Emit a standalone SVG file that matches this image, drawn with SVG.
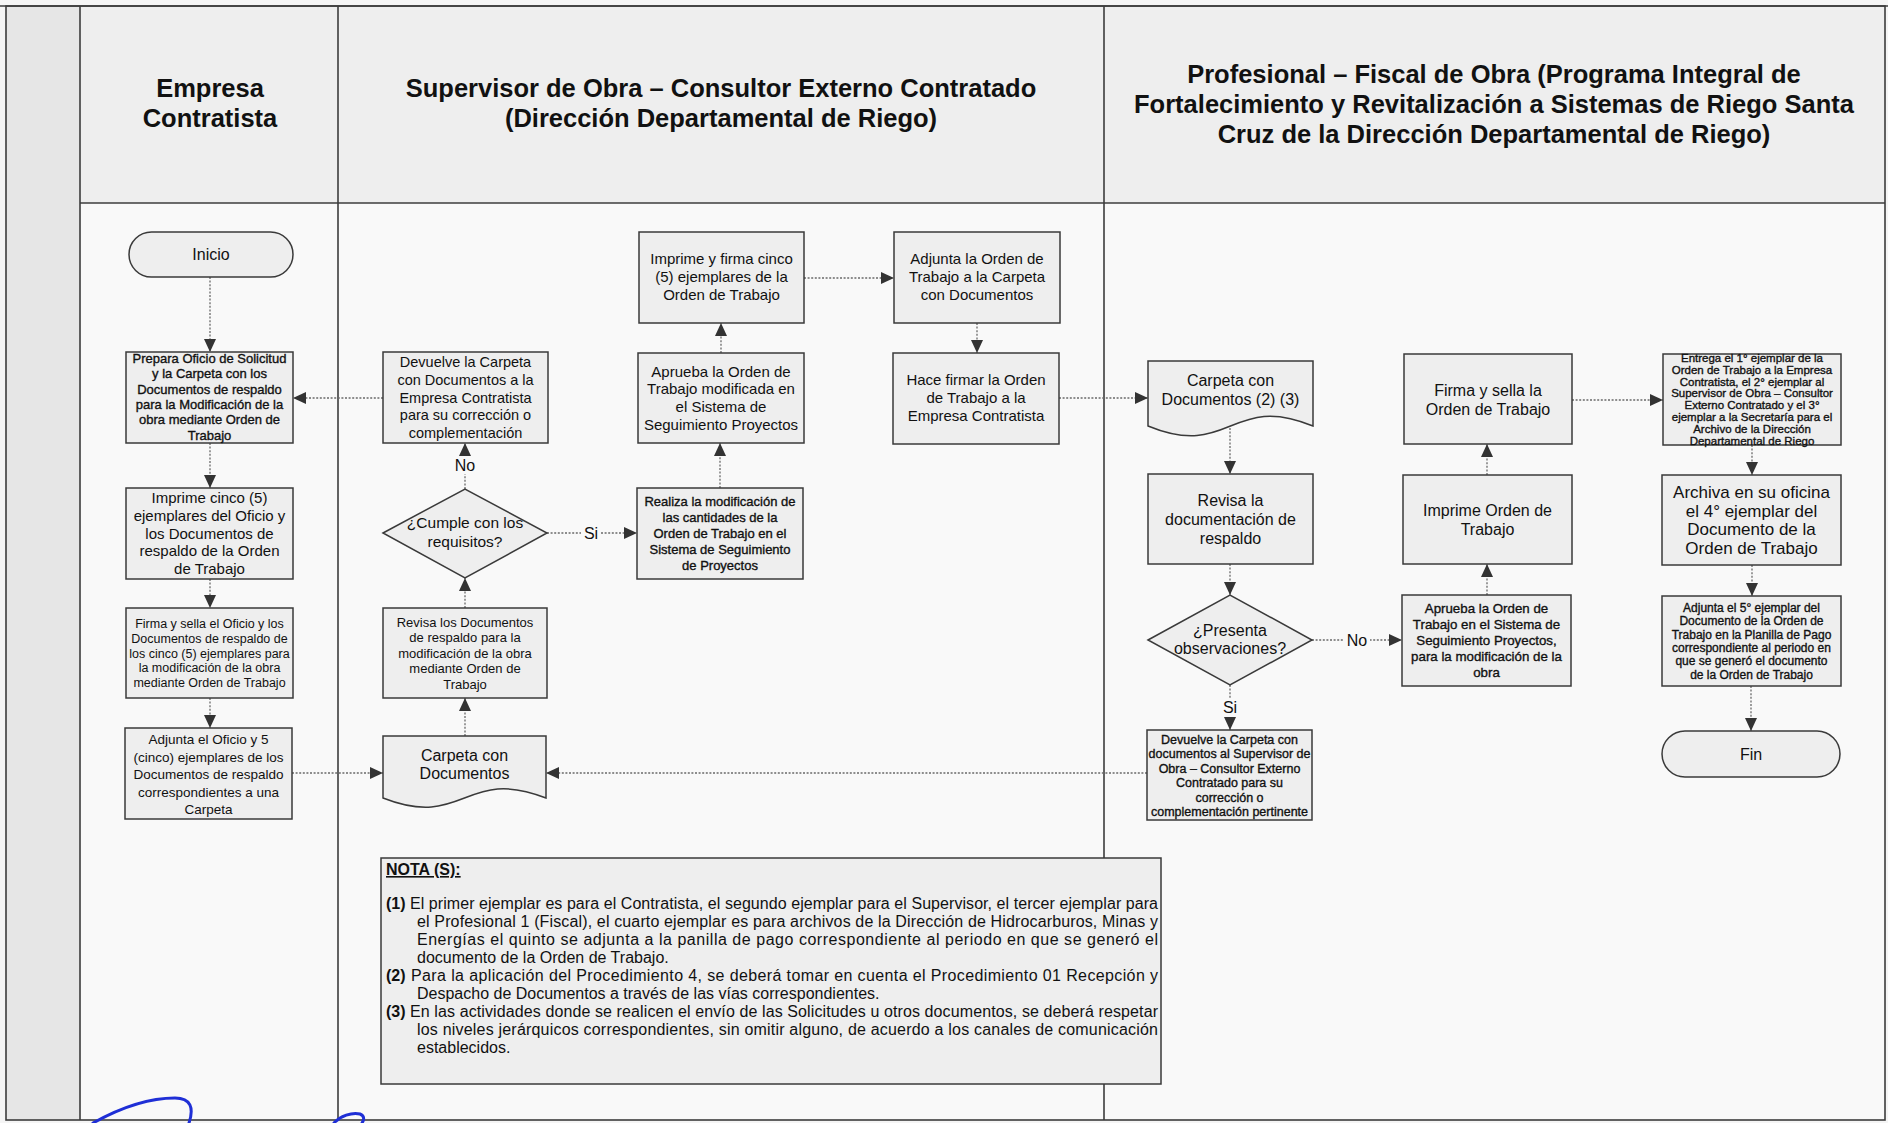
<svg xmlns="http://www.w3.org/2000/svg" width="1888" height="1123" viewBox="0 0 1888 1123">
<style>
.bg{fill:#f5f5f5}
.lane{stroke:#3c3c3c;stroke-width:1.6;fill:none}
.box{fill:#eeeeee;stroke:#3a3a3a;stroke-width:1.5}
.t{font-family:"Liberation Sans",Arial,sans-serif;fill:#111;text-anchor:middle}
.dk{stroke:#111;stroke-width:0.35}
.h{font-family:"Liberation Sans",Arial,sans-serif;font-weight:bold;font-size:25.5px;fill:#111;text-anchor:middle}
.c{fill:none;stroke:#6a6a6a;stroke-width:1.3;stroke-dasharray:2 1.6;marker-end:url(#ah)}
.lbl{font-family:"Liberation Sans",Arial,sans-serif;font-size:16px;fill:#111;text-anchor:middle}
.lb{fill:#f9f9f9}
.n{font-family:"Liberation Sans",Arial,sans-serif;font-size:16px;fill:#111}
.nb{font-weight:bold}
</style>
<defs>
<marker id="ah" viewBox="0 0 13 12" refX="13" refY="6" markerWidth="13" markerHeight="12" markerUnits="userSpaceOnUse" orient="auto">
<path d="M0,0 L13,6 L0,12 Z" fill="#333"/>
</marker>
</defs>

<g id="background">
<rect class="bg" x="0" y="0" width="1888" height="1123"/>
<rect x="6" y="6" width="74" height="1114" fill="#e6e6e6"/>
<rect x="80" y="6" width="1805" height="197" fill="#eeeeee"/>
<rect x="80" y="203" width="1805" height="917" fill="#f9f9f9"/>
</g>

<g id="lanes">
<rect class="lane" x="6" y="6" width="1879" height="1114"/>
<line class="lane" x1="0" y1="6" x2="1888" y2="6"/>
<line class="lane" x1="80" y1="6" x2="80" y2="1120"/>
<line class="lane" x1="338" y1="6" x2="338" y2="1120"/>
<line class="lane" x1="1104" y1="6" x2="1104" y2="1120"/>
<line class="lane" x1="80" y1="203" x2="1885" y2="203" stroke-width="2.2"/>
<text class="h" x="210" y="97">Empresa</text>
<text class="h" x="210" y="127">Contratista</text>
<text class="h" x="721" y="97">Supervisor de Obra – Consultor Externo Contratado</text>
<text class="h" x="721" y="127">(Dirección Departamental de Riego)</text>
<text class="h" x="1494" y="83">Profesional – Fiscal de Obra (Programa Integral de</text>
<text class="h" x="1494" y="113">Fortalecimiento y Revitalización a Sistemas de Riego  Santa</text>
<text class="h" x="1494" y="143">Cruz de la Dirección Departamental de Riego)</text>
</g>

<g id="connectors">
<path class="c" d="M210,277 V352"/>
<path class="c" d="M210,443 V488"/>
<path class="c" d="M210,579 V608"/>
<path class="c" d="M210,698 V728"/>
<path class="c" d="M292,773 H383"/>
<path class="c" d="M465,736 V698"/>
<path class="c" d="M465,608 V578"/>
<path class="c" d="M465,489 V443"/>
<path class="c" d="M383,398 H293"/>
<path class="c" d="M547,533 H637"/>
<path class="c" d="M720,488 V443"/>
<path class="c" d="M721,353 V323"/>
<path class="c" d="M804,278 H894"/>
<path class="c" d="M977,323 V353"/>
<path class="c" d="M1059,398 H1148"/>
<path class="c" d="M1230,428 V474"/>
<path class="c" d="M1230,564 V595"/>
<path class="c" d="M1312,640 H1402"/>
<path class="c" d="M1487,595 V564"/>
<path class="c" d="M1487,475 V444"/>
<path class="c" d="M1572,400 H1663"/>
<path class="c" d="M1752,445 V475"/>
<path class="c" d="M1752,565 V596"/>
<path class="c" d="M1751,686 V731"/>
<path class="c" d="M1230,685 V730"/>
<path class="c" d="M1147,773 H546"/>
<rect class="lb" x="452" y="456" width="26" height="18"/>
<text class="lbl" x="465" y="471">No</text>
<rect class="lb" x="581" y="524" width="20" height="18"/>
<text class="lbl" x="591" y="539">Si</text>
<rect class="lb" x="1344" y="631" width="26" height="18"/>
<text class="lbl" x="1357" y="646">No</text>
<rect class="lb" x="1220" y="698" width="20" height="18"/>
<text class="lbl" x="1230" y="713">Si</text>
</g>

<g id="n-inicio">
<rect class="box" x="129" y="232" width="164" height="45" rx="22.5"/>
<text class="t" x="211" y="260" font-size="16">Inicio</text>
</g>
<g id="n-prepara">
<rect class="box" x="126" y="352" width="167" height="91"/>
<text class="t dk" font-size="13" x="209.5" y="363"><tspan x="209.5">Prepara Oficio de Solicitud</tspan><tspan x="209.5" dy="15.3">y la Carpeta con los</tspan><tspan x="209.5" dy="15.3">Documentos de respaldo</tspan><tspan x="209.5" dy="15.3">para la Modificación de la</tspan><tspan x="209.5" dy="15.3">obra mediante Orden de</tspan><tspan x="209.5" dy="15.3">Trabajo</tspan></text>
</g>
<g id="n-imprime-cinco">
<rect class="box" x="126" y="488" width="167" height="91"/>
<text class="t" font-size="15" x="209.5" y="503.3"><tspan x="209.5">Imprime cinco (5)</tspan><tspan x="209.5" dy="17.7">ejemplares del Oficio y</tspan><tspan x="209.5" dy="17.7">los Documentos de</tspan><tspan x="209.5" dy="17.7">respaldo de la Orden</tspan><tspan x="209.5" dy="17.7">de Trabajo</tspan></text>
</g>
<g id="n-firma-sella-oficio">
<rect class="box" x="126" y="608" width="167" height="90"/>
<text class="t" font-size="12.5" x="209.5" y="628"><tspan x="209.5">Firma y sella el Oficio y los</tspan><tspan x="209.5" dy="14.8">Documentos de respaldo de</tspan><tspan x="209.5" dy="14.8">los cinco (5) ejemplares para</tspan><tspan x="209.5" dy="14.8">la modificación de la obra</tspan><tspan x="209.5" dy="14.8">mediante Orden de Trabajo</tspan></text>
</g>
<g id="n-adjunta-oficio">
<rect class="box" x="125" y="728" width="167" height="91"/>
<text class="t" font-size="13.5" x="208.5" y="744"><tspan x="208.5">Adjunta el Oficio y 5</tspan><tspan x="208.5" dy="17.5">(cinco) ejemplares de los</tspan><tspan x="208.5" dy="17.5">Documentos de respaldo</tspan><tspan x="208.5" dy="17.5">correspondientes a una</tspan><tspan x="208.5" dy="17.5">Carpeta</tspan></text>
</g>

<g id="n-devuelve-sup">
<rect class="box" x="383" y="352" width="165" height="91"/>
<text class="t" font-size="14.5" x="465.5" y="367"><tspan x="465.5">Devuelve la Carpeta</tspan><tspan x="465.5" dy="17.8">con Documentos a la</tspan><tspan x="465.5" dy="17.8">Empresa Contratista</tspan><tspan x="465.5" dy="17.8">para su corrección o</tspan><tspan x="465.5" dy="17.8">complementación</tspan></text>
</g>
<g id="n-cumple">
<polygon class="box" points="383,533 465,489 547,533 465,578"/>
<text class="t" font-size="15.5" x="465" y="528.4"><tspan x="465">¿Cumple con los</tspan><tspan x="465" dy="19">requisitos?</tspan></text>
</g>
<g id="n-revisa-sup">
<rect class="box" x="383" y="608" width="164" height="90"/>
<text class="t" font-size="13" x="465" y="626.5"><tspan x="465">Revisa los Documentos</tspan><tspan x="465" dy="15.5">de respaldo para la</tspan><tspan x="465" dy="15.5">modificación de la obra</tspan><tspan x="465" dy="15.5">mediante Orden de</tspan><tspan x="465" dy="15.5">Trabajo</tspan></text>
</g>
<g id="n-carpeta-sup">
<path class="box" d="M383,736 H546 V798 C464.5,766 464.5,830 383,798 Z"/>
<text class="t" font-size="16" x="464.5" y="760.5"><tspan x="464.5">Carpeta con</tspan><tspan x="464.5" dy="18">Documentos</tspan></text>
</g>
<g id="n-realiza">
<rect class="box" x="637" y="488" width="166" height="91"/>
<text class="t dk" font-size="13" x="720" y="506"><tspan x="720">Realiza la modificación de</tspan><tspan x="720" dy="16">las cantidades de la</tspan><tspan x="720" dy="16">Orden de Trabajo en el</tspan><tspan x="720" dy="16">Sistema de Seguimiento</tspan><tspan x="720" dy="16">de Proyectos</tspan></text>
</g>
<g id="n-aprueba-mod">
<rect class="box" x="638" y="353" width="166" height="90"/>
<text class="t" font-size="15" x="721" y="376.7"><tspan x="721">Aprueba la Orden de</tspan><tspan x="721" dy="17.7">Trabajo modificada en</tspan><tspan x="721" dy="17.7">el Sistema de</tspan><tspan x="721" dy="17.7">Seguimiento Proyectos</tspan></text>
</g>
<g id="n-imprime-firma">
<rect class="box" x="639" y="232" width="165" height="91"/>
<text class="t" font-size="15" x="721.5" y="264"><tspan x="721.5">Imprime y firma cinco</tspan><tspan x="721.5" dy="18">(5) ejemplares de la</tspan><tspan x="721.5" dy="18">Orden de Trabajo</tspan></text>
</g>
<g id="n-adjunta-orden">
<rect class="box" x="894" y="232" width="166" height="91"/>
<text class="t" font-size="15" x="977" y="264"><tspan x="977">Adjunta la Orden de</tspan><tspan x="977" dy="18">Trabajo a la Carpeta</tspan><tspan x="977" dy="18">con Documentos</tspan></text>
</g>
<g id="n-hace-firmar">
<rect class="box" x="893" y="353" width="166" height="91"/>
<text class="t" font-size="15" x="976" y="385"><tspan x="976">Hace firmar la Orden</tspan><tspan x="976" dy="18">de Trabajo a la</tspan><tspan x="976" dy="18">Empresa Contratista</tspan></text>
</g>

<g id="n-carpeta-prof">
<path class="box" d="M1148,361 H1313 V426 C1230.5,392 1230.5,460 1148,426 Z"/>
<text class="t" font-size="16" x="1230.5" y="385.5"><tspan x="1230.5">Carpeta con</tspan><tspan x="1230.5" dy="19">Documentos (2) (3)</tspan></text>
</g>
<g id="n-revisa-doc">
<rect class="box" x="1148" y="474" width="165" height="90"/>
<text class="t" font-size="16" x="1230.5" y="505.5"><tspan x="1230.5">Revisa la</tspan><tspan x="1230.5" dy="19">documentación de</tspan><tspan x="1230.5" dy="19">respaldo</tspan></text>
</g>
<g id="n-presenta">
<polygon class="box" points="1148,640 1230,595 1312,640 1230,685"/>
<text class="t" font-size="16" x="1230" y="635.6"><tspan x="1230">¿Presenta</tspan><tspan x="1230" dy="18">observaciones?</tspan></text>
</g>
<g id="n-devuelve-prof">
<rect class="box" x="1147" y="730" width="165" height="90"/>
<text class="t dk" font-size="12.5" x="1229.5" y="744"><tspan x="1229.5">Devuelve la Carpeta con</tspan><tspan x="1229.5" dy="14.4">documentos al Supervisor de</tspan><tspan x="1229.5" dy="14.4">Obra – Consultor Externo</tspan><tspan x="1229.5" dy="14.4">Contratado para su</tspan><tspan x="1229.5" dy="14.4">corrección o</tspan><tspan x="1229.5" dy="14.4">complementación pertinente</tspan></text>
</g>
<g id="n-aprueba-prof">
<rect class="box" x="1402" y="595" width="169" height="91"/>
<text class="t dk" font-size="13.3" x="1486.5" y="613"><tspan x="1486.5">Aprueba la Orden de</tspan><tspan x="1486.5" dy="16">Trabajo en el Sistema de</tspan><tspan x="1486.5" dy="16">Seguimiento Proyectos,</tspan><tspan x="1486.5" dy="16">para la modificación de la</tspan><tspan x="1486.5" dy="16">obra</tspan></text>
</g>
<g id="n-imprime-orden">
<rect class="box" x="1403" y="475" width="169" height="89"/>
<text class="t" font-size="16" x="1487.5" y="515.5"><tspan x="1487.5">Imprime Orden de</tspan><tspan x="1487.5" dy="19">Trabajo</tspan></text>
</g>
<g id="n-firma-orden">
<rect class="box" x="1404" y="354" width="168" height="90"/>
<text class="t" font-size="16" x="1488" y="395.5"><tspan x="1488">Firma y sella la</tspan><tspan x="1488" dy="19">Orden de Trabajo</tspan></text>
</g>
<g id="n-entrega">
<rect class="box" x="1663" y="354" width="178" height="91"/>
<text class="t dk" font-size="11.5" x="1752" y="362"><tspan x="1752">Entrega el 1° ejemplar de la</tspan><tspan x="1752" dy="11.8">Orden de Trabajo a la  Empresa</tspan><tspan x="1752" dy="11.8">Contratista, el 2° ejemplar al</tspan><tspan x="1752" dy="11.8">Supervisor de Obra – Consultor</tspan><tspan x="1752" dy="11.8">Externo Contratado y el 3°</tspan><tspan x="1752" dy="11.8">ejemplar a la Secretaría para el</tspan><tspan x="1752" dy="11.8">Archivo de la Dirección</tspan><tspan x="1752" dy="11.8">Departamental de  Riego</tspan></text>
</g>
<g id="n-archiva">
<rect class="box" x="1662" y="475" width="179" height="90"/>
<text class="t" font-size="17" x="1751.5" y="498"><tspan x="1751.5">Archiva en su  oficina</tspan><tspan x="1751.5" dy="18.7">el 4° ejemplar del</tspan><tspan x="1751.5" dy="18.7">Documento de la</tspan><tspan x="1751.5" dy="18.7">Orden de Trabajo</tspan></text>
</g>
<g id="n-adjunta-5">
<rect class="box" x="1662" y="596" width="179" height="90"/>
<text class="t dk" font-size="12" x="1751.5" y="612"><tspan x="1751.5">Adjunta el 5° ejemplar del</tspan><tspan x="1751.5" dy="13.3">Documento de la Orden de</tspan><tspan x="1751.5" dy="13.3">Trabajo en la Planilla de Pago</tspan><tspan x="1751.5" dy="13.3">correspondiente al periodo en</tspan><tspan x="1751.5" dy="13.3">que se generó el documento</tspan><tspan x="1751.5" dy="13.3">de la Orden de Trabajo</tspan></text>
</g>
<g id="n-fin">
<rect class="box" x="1662" y="731" width="178" height="46" rx="23"/>
<text class="t" font-size="16" x="1751" y="759.5">Fin</text>
</g>

<g id="notas">
<rect class="box" x="381" y="858" width="780" height="226"/>
<text class="n nb" x="386" y="875" text-decoration="underline">NOTA (S):</text>
<text class="n nb" x="386" y="909">(1)</text>
<text class="n" x="410" y="909" textLength="748" lengthAdjust="spacing">El primer ejemplar es para el Contratista, el segundo ejemplar para el Supervisor, el tercer ejemplar para</text>
<text class="n" x="417" y="927" textLength="741" lengthAdjust="spacing">el Profesional 1 (Fiscal), el cuarto ejemplar es para archivos de la Dirección de Hidrocarburos, Minas y</text>
<text class="n" x="417" y="945" textLength="741" lengthAdjust="spacing">Energías el quinto se adjunta a la panilla de pago correspondiente al periodo en que se generó el</text>
<text class="n" x="417" y="963">documento de la Orden de Trabajo.</text>
<text class="n nb" x="386" y="981">(2)</text>
<text class="n" x="411" y="981" textLength="747" lengthAdjust="spacing">Para la aplicación del  Procedimiento 4, se deberá tomar en cuenta el Procedimiento 01 Recepción y</text>
<text class="n" x="417" y="999">Despacho de Documentos a través de las vías correspondientes.</text>
<text class="n nb" x="386" y="1017">(3)</text>
<text class="n" x="410" y="1017" textLength="748" lengthAdjust="spacing">En las actividades donde se realicen  el envío de las Solicitudes u otros documentos, se deberá respetar</text>
<text class="n" x="417" y="1035" textLength="741" lengthAdjust="spacing">los niveles jerárquicos correspondientes, sin omitir alguno, de acuerdo a los canales de comunicación</text>
<text class="n" x="417" y="1053">establecidos.</text>
</g>

<g id="firma" fill="none" stroke="#1f2fd6" stroke-width="3" stroke-linecap="round">
<path d="M93,1123 C120,1108 150,1098 175,1098 C191,1098 194,1108 189,1123"/>
<path d="M334,1123 C340,1116 352,1112 360,1114 C365,1116 364,1120 362,1123"/>
</g>
</svg>
